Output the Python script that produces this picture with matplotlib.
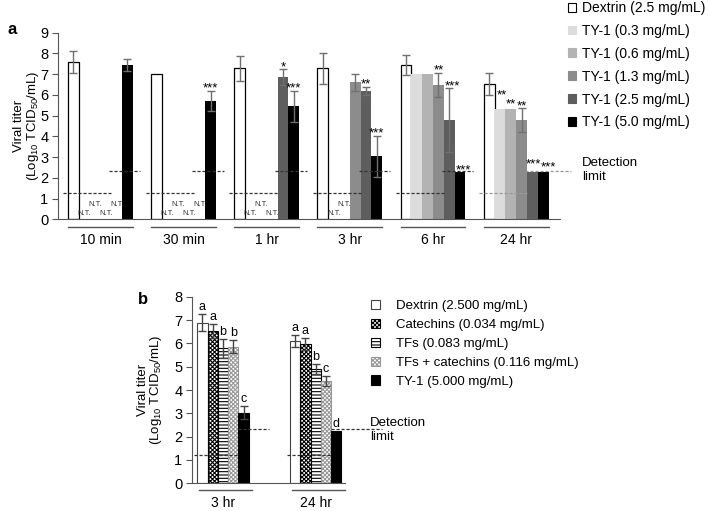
"""
plot.py - viral titer after TY-1 / tea component treatment (panels a and b)
"""

import numpy as np
import matplotlib
matplotlib.use("Agg")
import matplotlib.pyplot as plt
from matplotlib.patches import Patch

plt.rcParams["font.family"] = ["Liberation Sans", "DejaVu Sans"]
plt.rcParams["mathtext.fontset"] = "custom"
plt.rcParams["mathtext.rm"] = "Liberation Sans"
plt.rcParams["hatch.linewidth"] = 0.8

NT = np.nan

# ---- panel a data ----
TIMES_A = ["10 min", "30 min", "1 hr", "3 hr", "6 hr", "24 hr"]
LABELS_A = ["Dextrin (2.5 mg/mL)", "TY-1 (0.3 mg/mL)", "TY-1 (0.6 mg/mL)",
            "TY-1 (1.3 mg/mL)", "TY-1 (2.5 mg/mL)", "TY-1 (5.0 mg/mL)"]
DEXTRIN_A = [7.60, 7.00, 7.28, 7.28, 7.44, 6.53]
TY03_A = [NT, NT, NT, NT, 7.00, 5.30]
TY06_A = [NT, NT, NT, NT, 7.00, 5.30]
TY13_A = [NT, NT, NT, 6.60, 6.49, 4.79]
TY25_A = [NT, NT, 6.86, 6.20, 4.79, 2.27]
TY50_A = [7.44, 5.71, 5.45, 3.03, 2.27, 2.27]
ERR_DEXTRIN_A = [0.53, 0.0, 0.60, 0.75, 0.50, 0.53]
ERR_TY03_A = [0, 0, 0, 0, 0.0, 0.0]
ERR_TY06_A = [0, 0, 0, 0, 0.0, 0.0]
ERR_TY13_A = [0, 0, 0, 0.40, 0.58, 0.57]
ERR_TY25_A = [0, 0, 0.37, 0.20, 1.53, 0.0]
ERR_TY50_A = [0.27, 0.50, 0.75, 1.00, 0.0, 0.0]
SIG_DEXTRIN_A = ["", "", "", "", "", ""]
SIG_TY03_A = ["", "", "", "", "", "**"]
SIG_TY06_A = ["", "", "", "", "", "**"]
SIG_TY13_A = ["", "", "", "", "**", "**"]
SIG_TY25_A = ["", "", "*", "**", "***", "***"]
SIG_TY50_A = ["", "***", "***", "***", "***", "***"]
DETECT_A = [1.28, 2.34]

# ---- panel b data ----
TIMES_B = ["3 hr", "24 hr"]
LABELS_B = ["Dextrin (2.500 mg/mL)", "Catechins (0.034 mg/mL)", "TFs (0.083 mg/mL)",
            "TFs + catechins (0.116 mg/mL)", "TY-1 (5.000 mg/mL)"]
DEXTRIN_B = [6.88, 6.11]
CATECHINS_B = [6.54, 5.97]
TFS_B = [5.79, 4.89]
TFS_CAT_B = [5.86, 4.38]
TY1_B = [3.03, 2.24]
ERR_DEXTRIN_B = [0.36, 0.25]
ERR_CATECHINS_B = [0.30, 0.24]
ERR_TFS_B = [0.40, 0.22]
ERR_TFS_CAT_B = [0.27, 0.22]
ERR_TY1_B = [0.28, 0.0]
LET_DEXTRIN_B = ["a", "a"]
LET_CATECHINS_B = ["a", "a"]
LET_TFS_B = ["b", "b"]
LET_TFS_CAT_B = ["b", "c"]
LET_TY1_B = ["c", "d"]
DETECT_B = [1.20, 2.33]

W, H = 709, 511
fig = plt.figure(figsize=(W / 100, H / 100), dpi=100)


def px_axes(left, top, right, bottom):
    return fig.add_axes([left / W, 1 - bottom / H, (right - left) / W, (bottom - top) / H])


def style_axes(ax, ymax):
    for s in ["top", "right"]:
        ax.spines[s].set_visible(False)
    ax.spines["left"].set_color("#555555")
    ax.spines["bottom"].set_color("#555555")
    ax.set_ylim(0, ymax)
    ax.set_yticks(range(0, ymax + 1))
    ax.set_xticks([])
    ax.tick_params(axis="y", direction="out", length=4, color="#555555", labelsize=10.5, pad=3)


# ================= panel a =================
ax = px_axes(58, 32.7, 560, 219.3)
GA = 7.7
vals_a = [DEXTRIN_A, TY03_A, TY06_A, TY13_A, TY25_A, TY50_A]
errs_a = [ERR_DEXTRIN_A, ERR_TY03_A, ERR_TY06_A, ERR_TY13_A, ERR_TY25_A, ERR_TY50_A]
sigs_a = [SIG_DEXTRIN_A, SIG_TY03_A, SIG_TY06_A, SIG_TY13_A, SIG_TY25_A, SIG_TY50_A]
colors_a = ["white", "#dcdcdc", "#b3b3b3", "#8c8c8c", "#5e5e5e", "black"]
sig_shift = {(5, 1): (0.15, 0.6), (5, 2): (0, 0.15), (5, 4): (0.1, 0.3), (5, 5): (0.5, 0.15),
             (4, 4): (0.3, 0), (4, 5): (0.3, 0)}

xg = np.arange(len(TIMES_A)) * GA
for i in range(6):
    v = np.array(vals_a[i], dtype=float)
    x = xg + i
    ax.bar(x, np.nan_to_num(v), width=1.0, color=colors_a[i],
           edgecolor="black" if i == 0 else "none", linewidth=0.9, zorder=2)
    e = np.array(errs_a[i], dtype=float)
    m = e > 0
    if m.any():
        ax.errorbar(x[m], v[m], yerr=e[m], fmt="none", ecolor="#707070",
                    elinewidth=1.0, capsize=3, capthick=1.0, zorder=3)
    for g in range(len(TIMES_A)):
        if np.isnan(v[g]):
            ax.text(x[g], 0.28 if i % 2 == 1 else 0.69, "N.T.", fontsize=5.5,
                    ha="center", va="center", color="#333333")
        if sigs_a[i][g]:
            dx, dy = sig_shift.get((g, i), (0, 0))
            ax.text(x[g] + dx, v[g] + e[g] - 0.2 + dy, sigs_a[i][g], fontsize=9.5,
                    ha="center", va="bottom", zorder=4)

for g, t in enumerate(TIMES_A):
    lo_end = xg[g] + 3.5
    hi_end = xg[g] + 6.2 if g < len(TIMES_A) - 1 else xg[g] + 7.6
    dcol = "#333333" if g < len(TIMES_A) - 1 else "#999999"
    ax.plot([xg[g] - 0.95, lo_end], [DETECT_A[0]] * 2, ls=(0, (2.5, 1.5)), lw=0.9, color=dcol,
            zorder=4, clip_on=False)
    ax.plot([lo_end - 0.2, hi_end], [DETECT_A[1]] * 2, ls=(0, (2.5, 1.5)), lw=0.9, color=dcol,
            zorder=4, clip_on=False)
    ax.plot([xg[g] - 0.5, xg[g] + 5.5], [-0.37, -0.37], color="#555555", lw=1.0, clip_on=False)
    ax.text(xg[g] + 2.5, -1.0, t, fontsize=10, ha="center", va="center")

ax.set_xlim(-1.43, 45.06)
style_axes(ax, 9)
ax.set_ylabel("Viral titer\n(Log$_{10}$ TCID$_{50}$/mL)", fontsize=9.5, linespacing=0.95)
ax.yaxis.set_label_coords(-0.034, 0.5)

fig.text(8 / W, 1 - 30 / H, "a", fontsize=12, fontweight="bold", va="center")
fig.text(582 / W, 1 - 170 / H, "Detection\nlimit", fontsize=9.5, va="center", linespacing=1.3)

handles_a = [Patch(facecolor=c, edgecolor="black" if k == 0 else c, linewidth=0.8)
             for k, c in enumerate(colors_a)]
fig.legend(handles_a, LABELS_A, loc="upper left", bbox_to_anchor=(568 / W, 1 - 1 / H),
           frameon=False, fontsize=10, handlelength=0.6, handleheight=0.6,
           handletextpad=0.4, labelspacing=0.64, borderpad=0, borderaxespad=0)

# ================= panel b =================
bx = px_axes(192, 296.7, 345, 483.3)
GB = 9
vals_b = [DEXTRIN_B, CATECHINS_B, TFS_B, TFS_CAT_B, TY1_B]
errs_b = [ERR_DEXTRIN_B, ERR_CATECHINS_B, ERR_TFS_B, ERR_TFS_CAT_B, ERR_TY1_B]
lets_b = [LET_DEXTRIN_B, LET_CATECHINS_B, LET_TFS_B, LET_TFS_CAT_B, LET_TY1_B]
face_b = ["white", "white", "white", "white", "black"]
edge_b = ["#444444", "black", "black", "#999999", "black"]
hatch_b = [None, "xxxxxxxx", "-----", "xxxxxxxx", None]

xgb = np.arange(len(TIMES_B)) * GB
for i in range(5):
    x = xgb + i
    v = np.array(vals_b[i])
    e = np.array(errs_b[i])
    bx.bar(x, v, width=1.0, color=face_b[i], edgecolor=edge_b[i], hatch=hatch_b[i],
           linewidth=0.8, zorder=2)
    m = e > 0
    bx.errorbar(x[m], v[m], yerr=e[m], fmt="none", ecolor="#444444",
                elinewidth=1.0, capsize=3, capthick=1.0, zorder=3)
    for g in range(len(TIMES_B)):
        bx.text(x[g], v[g] + e[g] + 0.05, lets_b[i][g], fontsize=9,
                ha="center", va="bottom", zorder=4)

for g, t in enumerate(TIMES_B):
    bx.plot([xgb[g] - 0.8, xgb[g] + 3.5], [DETECT_B[0]] * 2, ls=(0, (2.5, 1.5)), lw=0.9,
            color="#333333", zorder=4, clip_on=False)
    hi_end = xgb[g] + 6.5 if g == 0 else xgb[g] + 8.4
    bx.plot([xgb[g] + 3.5, hi_end], [DETECT_B[1]] * 2, ls=(0, (2.5, 1.5)), lw=0.9,
            color="#333333", zorder=4, clip_on=False)
    bx.plot([xgb[g] - 0.3, xgb[g] + 4.8], [-0.29, -0.29], color="#555555", lw=1.0, clip_on=False)
    bx.text(xgb[g] + 2, -0.84, t, fontsize=10, ha="center", va="center")

bx.set_xlim(-1.01, 13.84)
style_axes(bx, 8)
bx.set_ylabel("Viral titer\n(Log$_{10}$ TCID$_{50}$/mL)", fontsize=9.5, linespacing=0.95)
bx.yaxis.set_label_coords(-0.18, 0.5)

fig.text(138 / W, 1 - 300 / H, "b", fontsize=12, fontweight="bold", va="center")
fig.text(370 / W, 1 - 430 / H, "Detection\nlimit", fontsize=9.5, va="center", linespacing=1.3)

handles_b = [Patch(facecolor=face_b[k], edgecolor=edge_b[k], hatch=hatch_b[k], linewidth=0.8)
             for k in range(5)]
fig.legend(handles_b, LABELS_B, loc="upper left", bbox_to_anchor=(371 / W, 1 - 300 / H),
           frameon=False, fontsize=9.5, handlelength=0.7, handleheight=0.7,
           handletextpad=1.2, labelspacing=0.5, borderpad=0, borderaxespad=0)

fig.savefig("out.png", dpi=100)
